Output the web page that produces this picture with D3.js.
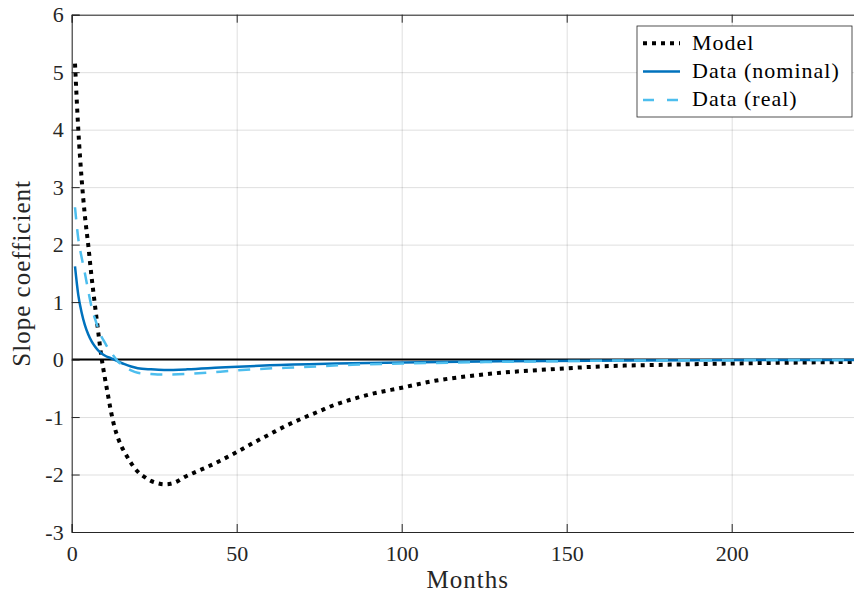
<!DOCTYPE html>
<html>
<head>
<meta charset="utf-8">
<script src="https://cdn.jsdelivr.net/npm/d3@7"></script>
<style>
  body { margin: 0; background: #fff; }
</style>
</head>
<body>
<div id="chart"></div>
<script>
// months (x) and slope coefficients (y)
const modelMonths = [1, 2, 3, 4, 5, 6, 7, 8, 9, 10, 11, 12, 13, 14, 15, 16, 18, 20, 22, 24, 26, 28, 30, 32, 34, 37, 41, 45, 50, 55, 60, 65, 70, 75, 80, 85, 90, 100, 110, 120, 130, 145, 160, 180, 210, 240]
const modelValues = [5.15, 4.0, 3.15, 2.5, 2.0, 1.45, 0.97, 0.5, 0.05, -0.3, -0.62, -0.93, -1.18, -1.36, -1.5, -1.61, -1.8, -1.95, -2.04, -2.11, -2.15, -2.17, -2.16, -2.12, -2.05, -1.97, -1.87, -1.76, -1.61, -1.45, -1.3, -1.15, -1.02, -0.9, -0.78, -0.69, -0.61, -0.49, -0.37, -0.29, -0.23, -0.17, -0.12, -0.09, -0.06, -0.04]

const nominalMonths = [1, 2, 3, 4, 5, 6, 7, 8, 9, 10, 12, 14, 16, 18, 20, 24, 28, 35, 45, 60, 80, 100, 130, 170, 240]
const nominalValues = [1.62, 1.12, 0.82, 0.6, 0.44, 0.32, 0.23, 0.16, 0.11, 0.07, 0.02, -0.03, -0.08, -0.12, -0.15, -0.17, -0.18, -0.17, -0.14, -0.1, -0.07, -0.05, -0.03, -0.015, -0.005]

const realMonths = [1, 2, 3, 4, 5, 6, 7, 8, 9, 10, 11, 12, 13, 14, 16, 18, 20, 24, 28, 35, 45, 55, 70, 85, 100, 130, 160, 200, 240]
const realValues = [2.65, 2.1, 1.78, 1.5, 1.2, 0.92, 0.72, 0.55, 0.4, 0.3, 0.2, 0.12, 0.04, -0.03, -0.12, -0.19, -0.23, -0.25, -0.26, -0.25, -0.21, -0.17, -0.13, -0.09, -0.07, -0.04, -0.02, -0.01, -0.005]

const xTicks = [0, 50, 100, 150, 200]
const yTicks = [-3, -2, -1, 0, 1, 2, 3, 4, 5, 6]
const legendLabels = ["Model", "Data (nominal)", "Data (real)"]

const serif = "'Liberation Serif', 'Times New Roman', serif"

let margin = { top: 14.7, left: 71.7 },
    width = 792,
    height = 517.3

let svg = d3.select("#chart").append("svg")
    .attr("width", 854)
    .attr("height", 596)

let g = svg.append("g")
    .attr("transform", "translate(" + margin.left + "," + margin.top + ")")

let x = d3.scaleLinear().domain([0, 240]).range([0, width])
let y = d3.scaleLinear().domain([-3, 6]).range([height, 0])

svg.append("clipPath").attr("id", "clip")
    .append("rect").attr("width", width).attr("height", height)

// grid
g.append("g")
    .attr("transform", "translate(0," + height + ")")
    .call(d3.axisBottom(x).tickValues(xTicks).tickSize(-height).tickFormat(""))
    .call(a => a.select(".domain").remove())
    .selectAll("line").attr("stroke", "#262626").attr("stroke-opacity", 0.15)

g.append("g")
    .call(d3.axisLeft(y).tickValues(yTicks).tickSize(-width).tickFormat(""))
    .call(a => a.select(".domain").remove())
    .selectAll("line").attr("stroke", "#262626").attr("stroke-opacity", 0.15)

let plot = g.append("g").attr("clip-path", "url(#clip)")

// zero line
plot.append("path")
    .attr("d", d3.line()([[x(0), y(0)], [x(240), y(0)]]))
    .attr("stroke", "#000").attr("stroke-width", 2).attr("fill", "none")

let line = d3.line()
    .x(d => x(d[0]))
    .y(d => y(d[1]))
    .curve(d3.curveMonotoneX)

let series = [
    { months: modelMonths, values: modelValues, color: "#000000", width: 4, dash: "4,5" },
    { months: nominalMonths, values: nominalValues, color: "#0072BD", width: 2.5, dash: null },
    { months: realMonths, values: realValues, color: "#4DBEEE", width: 2.5, dash: "12,10" }
]

series.forEach(s => {
    plot.append("path")
        .datum(d3.zip(s.months, s.values))
        .attr("d", line)
        .attr("fill", "none")
        .attr("stroke", s.color)
        .attr("stroke-width", s.width)
        .attr("stroke-dasharray", s.dash)
})

// axes with inward ticks
g.append("g")
    .attr("transform", "translate(0," + height + ")")
    .call(d3.axisBottom(x).tickValues(xTicks).tickSize(-8).tickPadding(13))
g.append("g")
    .call(d3.axisTop(x).tickValues(xTicks).tickSize(-8).tickFormat(""))
g.append("g")
    .call(d3.axisLeft(y).tickValues(yTicks).tickSize(-8).tickPadding(8).tickFormat(d => d < 0 ? "-" + (-d) : d))

g.selectAll(".domain").attr("stroke", "#262626").attr("stroke-width", 1)
g.selectAll(".tick line").filter(function () { return !this.getAttribute("stroke-opacity") })
    .attr("stroke", "#262626")
g.selectAll(".tick text")
    .style("font-family", serif).style("font-size", "22px")
    .attr("fill", "#262626")

// axis titles
svg.append("text")
    .attr("x", margin.left + x(120)).attr("y", 588)
    .attr("text-anchor", "middle")
    .style("font-family", serif).style("font-size", "25px").style("letter-spacing", "1px")
    .attr("fill", "#262626")
    .text("Months")

svg.append("text")
    .attr("transform", "translate(30," + (margin.top + height / 2) + ") rotate(-90)")
    .attr("text-anchor", "middle")
    .style("font-family", serif).style("font-size", "25px").style("letter-spacing", "1px")
    .attr("fill", "#262626")
    .text("Slope coefficient")

// legend
let legend = svg.append("g").attr("transform", "translate(637,26)")
legend.append("rect")
    .attr("width", 215).attr("height", 91)
    .attr("fill", "#fff").attr("stroke", "#262626").attr("stroke-width", 0.8)

series.forEach((s, i) => {
    let ly = 17.3 + i * 28.3
    legend.append("line")
        .attr("x1", 6).attr("x2", 43).attr("y1", ly).attr("y2", ly)
        .attr("stroke", s.color).attr("stroke-width", s.width)
        .attr("stroke-dasharray", i === 2 ? "11,13" : s.dash)
    legend.append("text")
        .attr("x", 55).attr("y", ly + 6.5)
        .style("font-family", serif).style("font-size", "22px").style("letter-spacing", "1px")
        .attr("fill", "#000")
        .text(legendLabels[i])
})
</script>
</body>
</html>
